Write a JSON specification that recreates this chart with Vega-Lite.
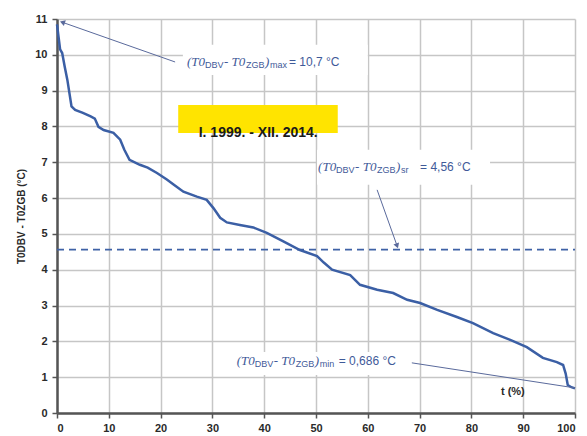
{
  "$schema": "https://vega.github.io/schema/vega-lite/v6.json",
  "width": 518,
  "height": 394,
  "autosize": "none",
  "padding": {"left": 57, "top": 19, "right": 12, "bottom": 23},
  "background": "white",
  "config": {
    "view": {"stroke": null},
    "axis": {
      "labelFont": "Liberation Sans",
      "labelFontWeight": "bold",
      "labelFontSize": 11,
      "labelColor": "#2a2a2a",
      "domainColor": "#555555",
      "domainWidth": 2.5,
      "tickColor": "#555555",
      "tickWidth": 1.5,
      "tickSize": 5,
      "labelPadding": 4,
      "gridColor": "#c6c6c6",
      "gridWidth": 1.5
    }
  },
  "datasets": {
    "curve": [
      {"t": 0, "v": 10.85}, {"t": 0.3, "v": 10.5}, {"t": 0.6, "v": 10.15}, {"t": 1.0, "v": 10.05},
      {"t": 1.5, "v": 9.66}, {"t": 2.0, "v": 9.3}, {"t": 2.8, "v": 8.56}, {"t": 3.5, "v": 8.46},
      {"t": 5, "v": 8.38}, {"t": 6.5, "v": 8.28}, {"t": 7.3, "v": 8.22}, {"t": 8, "v": 7.99},
      {"t": 9, "v": 7.9}, {"t": 10.9, "v": 7.82}, {"t": 12.2, "v": 7.63}, {"t": 13, "v": 7.35},
      {"t": 14, "v": 7.07}, {"t": 16, "v": 6.93}, {"t": 17.5, "v": 6.85}, {"t": 19.3, "v": 6.7},
      {"t": 21.2, "v": 6.52}, {"t": 22.5, "v": 6.38}, {"t": 24.4, "v": 6.18}, {"t": 27, "v": 6.04},
      {"t": 28.9, "v": 5.95}, {"t": 30.2, "v": 5.72}, {"t": 31.5, "v": 5.45}, {"t": 32.8, "v": 5.32},
      {"t": 35.3, "v": 5.25}, {"t": 37.9, "v": 5.18}, {"t": 40.5, "v": 5.03}, {"t": 43.6, "v": 4.8},
      {"t": 46.9, "v": 4.55}, {"t": 50.2, "v": 4.38}, {"t": 51.5, "v": 4.2}, {"t": 53.1, "v": 4.0},
      {"t": 56.6, "v": 3.85}, {"t": 58.5, "v": 3.58}, {"t": 61.8, "v": 3.44}, {"t": 64.9, "v": 3.35},
      {"t": 67.6, "v": 3.16}, {"t": 70.1, "v": 3.07}, {"t": 73.4, "v": 2.88}, {"t": 77.2, "v": 2.68},
      {"t": 80.3, "v": 2.51}, {"t": 84.2, "v": 2.23}, {"t": 87.5, "v": 2.04}, {"t": 90.7, "v": 1.84},
      {"t": 93.8, "v": 1.54}, {"t": 96.5, "v": 1.42}, {"t": 97.7, "v": 1.34}, {"t": 98.2, "v": 1.1},
      {"t": 98.6, "v": 0.78}, {"t": 99.3, "v": 0.72}, {"t": 100, "v": 0.686}
    ],
    "avg": [{"t": 0, "v": 4.56}, {"t": 100, "v": 4.56}],
    "masks": [
      {"t": 24.3, "t2": 60, "v": 9.44, "v2": 10.28},
      {"t": 50.2, "t2": 83.6, "v": 6.37, "v2": 7.35},
      {"t": 35.3, "t2": 69.1, "v": 1.06, "v2": 1.7}
    ],
    "period": [{"t": 23.4, "t2": 54.2, "v": 7.82, "v2": 8.6, "label": "I. 1999. - XII. 2014."}],
    "leaders": [
      {"id": "max", "t": 22.8, "v": 9.8}, {"id": "max", "t": 1.2, "v": 10.9},
      {"id": "sr", "t": 61.8, "v": 6.23}, {"id": "sr", "t": 65.6, "v": 4.69},
      {"id": "min", "t": 68.5, "v": 1.4}, {"id": "min", "t": 100, "v": 0.7}
    ],
    "head1": [{"t": 1.2, "v": 10.9}],
    "head2": [{"t": 65.6, "v": 4.69}],
    "notes": [
      {"t": 25.1, "v": 9.8, "sub": "max", "val": "=  10,7 °C"},
      {"t": 50.4, "v": 6.87, "sub": "sr", "val": "=  4,56 °C"},
      {"t": 34.7, "v": 1.45, "sub": "min", "val": "=  0,686 °C"}
    ],
    "xlabel": [{"t": 88, "v": 0.59, "label": "t (%)"}]
  },
  "encoding": {
    "x": {
      "field": "t", "type": "quantitative",
      "scale": {"domain": [0, 100], "nice": false},
      "axis": {"values": [0, 10, 20, 30, 40, 50, 60, 70, 80, 90, 100], "title": null}
    },
    "y": {
      "field": "v", "type": "quantitative",
      "scale": {"domain": [0, 11], "nice": false},
      "axis": {
        "values": [0, 1, 2, 3, 4, 5, 6, 7, 8, 9, 10, 11],
        "title": "T0DBV - T0ZGB (°C)",
        "titleFont": "Liberation Sans",
        "titleFontWeight": "bold",
        "titleFontSize": 10,
        "titleColor": "#2a2a2a",
        "titlePadding": 8,
        "labelPadding": 5
      }
    }
  },
  "layer": [
    {
      "data": {"name": "masks"},
      "mark": {"type": "rect", "fill": "white"},
      "encoding": {"x2": {"field": "t2"}, "y2": {"field": "v2"}}
    },
    {
      "data": {"name": "period"},
      "mark": {"type": "rect", "fill": "#ffe400"},
      "encoding": {"x2": {"field": "t2"}, "y2": {"field": "v2"}}
    },
    {
      "data": {"name": "period"},
      "mark": {"type": "text", "font": "Liberation Sans", "fontWeight": "bold", "fontSize": 14, "color": "#1a1a1a", "align": "center", "baseline": "middle", "dx": 80},
      "encoding": {"text": {"field": "label"}}
    },
    {
      "data": {"name": "avg"},
      "mark": {"type": "line", "color": "#3f62a6", "strokeWidth": 1.6, "strokeDash": [7, 5]},
      "encoding": {}
    },
    {
      "data": {"name": "curve"},
      "mark": {"type": "line", "color": "#3b5fa5", "strokeWidth": 2.5},
      "encoding": {}
    },
    {
      "data": {"name": "leaders"},
      "mark": {"type": "line", "color": "#5a6a9c", "strokeWidth": 1},
      "encoding": {"detail": {"field": "id"}}
    },
    {
      "data": {"name": "head1"},
      "mark": {"type": "point", "shape": "triangle", "angle": 289, "size": 35, "filled": true, "color": "#5a6a9c", "opacity": 1},
      "encoding": {}
    },
    {
      "data": {"name": "head2"},
      "mark": {"type": "point", "shape": "triangle", "angle": 160, "size": 35, "filled": true, "color": "#5a6a9c", "opacity": 1},
      "encoding": {}
    },
    {
      "data": {"name": "notes"},
      "mark": {"type": "text", "font": "Liberation Serif", "fontStyle": "italic", "fontSize": 13, "color": "#3f5a99", "align": "left", "baseline": "middle", "text": "(T0"},
      "encoding": {}
    },
    {
      "data": {"name": "notes"},
      "mark": {"type": "text", "font": "Liberation Sans", "fontSize": 9, "color": "#3f5a99", "align": "left", "baseline": "middle", "dx": 18, "dy": 3, "text": "DBV"},
      "encoding": {}
    },
    {
      "data": {"name": "notes"},
      "mark": {"type": "text", "font": "Liberation Serif", "fontStyle": "italic", "fontSize": 13, "color": "#3f5a99", "align": "left", "baseline": "middle", "dx": 37, "text": "- T0"},
      "encoding": {}
    },
    {
      "data": {"name": "notes"},
      "mark": {"type": "text", "font": "Liberation Sans", "fontSize": 9, "color": "#3f5a99", "align": "left", "baseline": "middle", "dx": 59, "dy": 3, "text": "ZGB"},
      "encoding": {}
    },
    {
      "data": {"name": "notes"},
      "mark": {"type": "text", "font": "Liberation Serif", "fontStyle": "italic", "fontSize": 13, "color": "#3f5a99", "align": "left", "baseline": "middle", "dx": 78, "text": ")"},
      "encoding": {}
    },
    {
      "data": {"name": "notes"},
      "mark": {"type": "text", "font": "Liberation Sans", "fontSize": 9, "color": "#3f5a99", "align": "left", "baseline": "middle", "dx": 83, "dy": 3},
      "encoding": {"text": {"field": "sub"}}
    },
    {
      "data": {"name": "notes"},
      "mark": {"type": "text", "font": "Liberation Sans", "fontSize": 12, "color": "#3f5a99", "align": "left", "baseline": "middle", "dx": 102},
      "encoding": {"text": {"field": "val"}}
    },
    {
      "data": {"name": "xlabel"},
      "mark": {"type": "text", "font": "Liberation Sans", "fontWeight": "bold", "fontSize": 11, "color": "#2a2a2a", "align": "center", "baseline": "middle"},
      "encoding": {"text": {"field": "label"}}
    }
  ]
}
